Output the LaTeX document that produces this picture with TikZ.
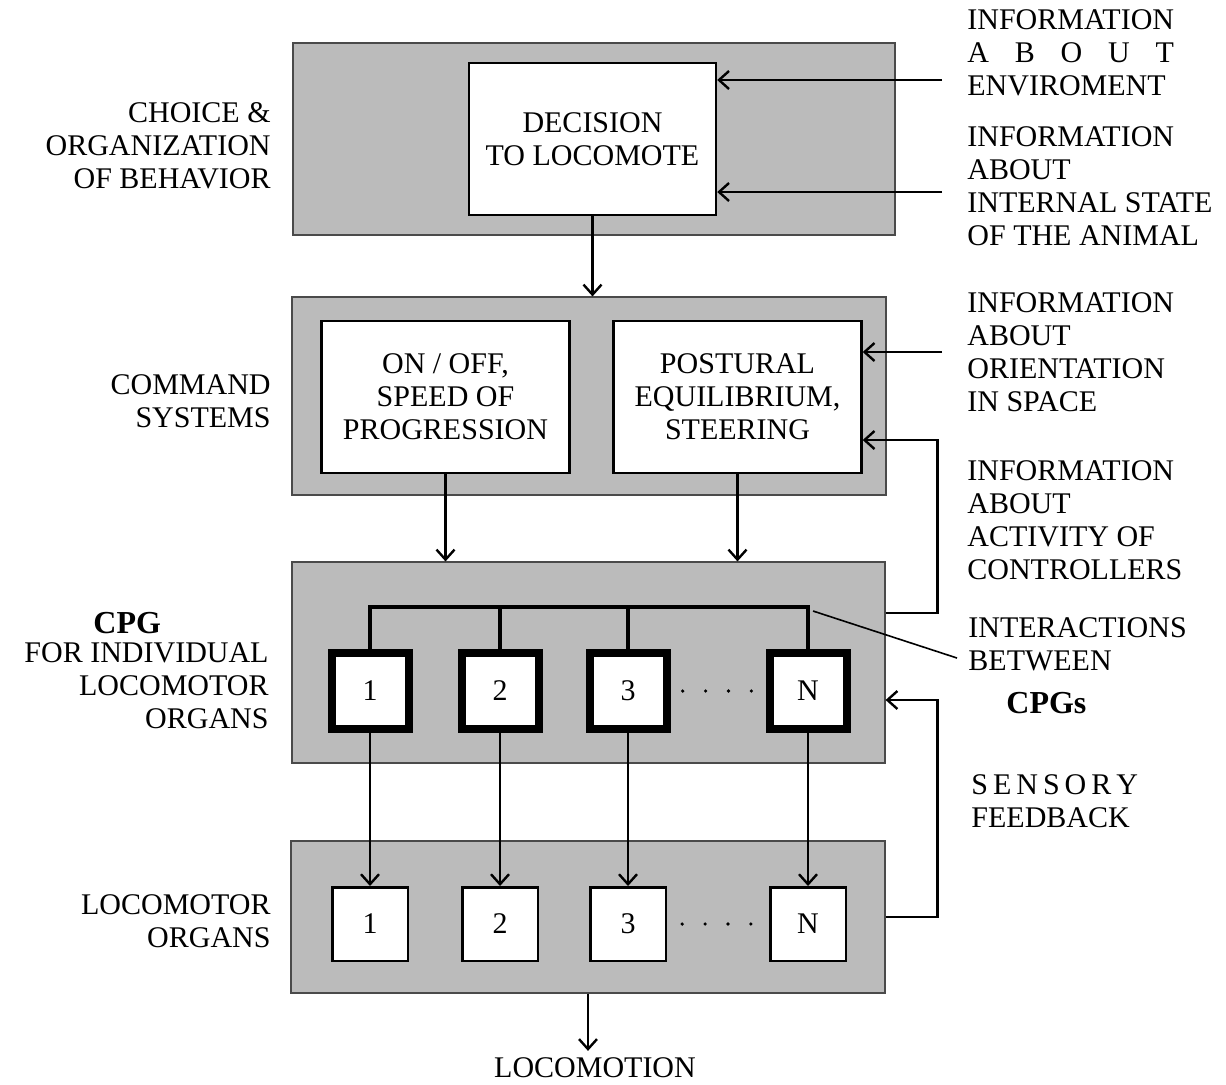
\documentclass[tikz,border=0pt]{standalone}
\usepackage{fontspec}
\setmainfont{Liberation Serif}
\usepackage{calc}
\usepackage{tikz}
\usetikzlibrary{arrows.meta,positioning}
\definecolor{panelgray}{HTML}{BBBBBB}
\definecolor{edgegray}{HTML}{4A4A4A}
\newcommand{\spreadto}[2]{\makebox[\widthof{#1}][s]{#2}}

\begin{document}
\begin{tikzpicture}[x=0.5pt,y=-0.5pt, every node/.style={font=\fontsize{15}{16.5}\selectfont}, >={Straight Barb[length=5pt,width=9pt]}]
\tikzstyle{panel}=[draw=edgegray,line width=0.6pt,fill=panelgray,inner sep=0pt]
\tikzstyle{whitebox}=[draw,line width=1.2pt,fill=white,align=center,inner sep=0pt,minimum width=124pt,minimum height=76pt]
\tikzstyle{cpgbox}=[draw,line width=4pt,fill=white,inner sep=0pt,minimum width=38.5pt,minimum height=38pt]
\tikzstyle{organbox}=[draw,line width=1.25pt,fill=white,inner sep=0pt,minimum width=37.75pt,minimum height=36.75pt]
\tikzstyle{lbl}=[align=right,anchor=east,inner sep=0pt]
\tikzstyle{info}=[align=left,anchor=west,inner sep=0pt]
\tikzstyle{boldlbl}=[anchor=west,inner sep=0pt,font=\fontsize{16}{18}\selectfont\bfseries]
\tikzstyle{arr}=[->,line width=1.2pt]
\tikzstyle{bus}=[line width=1.6pt]
\tikzstyle{pointer}=[line width=0.8pt]
\tikzstyle{dots}=[line width=1.8pt,line cap=round,dash pattern=on 0pt off 11.45pt]
\useasboundingbox (0,0) rectangle (1226,1084);
% gray levels
\node[panel,minimum width=301pt,minimum height=96pt] (choice) at (594,139) {};
\node[panel,minimum width=297pt,minimum height=99pt] (command) at (589,396) {};
\node[panel,minimum width=296.5pt,minimum height=100.5pt] (cpgs) at (588.5,662.5) {};
\node[panel,minimum width=297pt,minimum height=76pt] (organs) at (588,917) {};
% boxes
\node[whitebox,minimum width=123.5pt] (decision) at (592.5,139) {DECISION\\TO LOCOMOTE};
\node[whitebox] (onoff) at (445.5,397) {ON / OFF,\\SPEED OF\\PROGRESSION};
\node[whitebox] (postural) at (737.5,397) {POSTURAL\\EQUILIBRIUM,\\STEERING};
\node[cpgbox] (cpg1) at (370,691) {1};
\node[cpgbox] (cpg2) at (500,691) {2};
\node[cpgbox] (cpg3) at (628,691) {3};
\node[cpgbox] (cpgN) at (808,691) {N};
\node[organbox,below=76.5pt of cpg1] (org1) {1};
\node[organbox,below=76.5pt of cpg2] (org2) {2};
\node[organbox,below=76.5pt of cpg3] (org3) {3};
\node[organbox,below=76.5pt of cpgN] (orgN) {N};
% labels left
\node[lbl] (choicelbl) at (271,145.5) {CHOICE \&\\ORGANIZATION\\OF BEHAVIOR};
\node[lbl] (cmdlbl) at (271,401.5) {COMMAND\\SYSTEMS};
\node[boldlbl] (cpgword) at (93,623) {CPG};
\node[lbl] (cpglbl) at (269,686) {FOR INDIVIDUAL\\LOCOMOTOR\\ORGANS};
\node[lbl] (orglbl) at (271,921.5) {LOCOMOTOR\\ORGANS};
% labels right
\node[info] (envtxt) at (967,52.5) {INFORMATION\\\spreadto{INFORMATION}{A B O U T}\\ENVIROMENT};
\node[info] (statetxt) at (967,186.5) {INFORMATION\\ABOUT\\INTERNAL STATE\\OF THE ANIMAL};
\node[info] (orienttxt) at (967,352) {INFORMATION\\ABOUT\\ORIENTATION\\IN SPACE};
\node[info] (acttxt) at (967,520.5) {INFORMATION\\ABOUT\\ACTIVITY OF\\CONTROLLERS};
\node[info] (intertxt) at (968,644) {INTERACTIONS\\BETWEEN};
\node[boldlbl] (cpgsword) at (1006,703) {CPGs};
\node[info] (senstxt) at (971,801) {\spreadto{FEEDBACK}{S E N S O R Y}\\FEEDBACK};
\node (loco) at (595,1068) {LOCOMOTION};
% inputs
\coordinate (envin) at (942,80);
\coordinate (statein) at (942,192);
\coordinate (orientin) at (942,352);
\coordinate (actout) at (0,613);
\coordinate (actin) at (0,440);
\coordinate (sensin) at (0,700);
\coordinate (busy) at (0,607);
\coordinate (ptr) at (957,658);
\draw[arr] (envin) -- (decision.east |- envin);
\draw[arr] (statein) -- (decision.east |- statein);
\draw[arr] (orientin) -- (postural.east |- orientin);
\draw[arr] (cpgs.east |- actout) -- ++(26pt,0) |- (postural.east |- actin);
\draw[arr] (organs.east) -- ++(26pt,0) |- (cpgs.east |- sensin);
% downward flow
\draw[arr] (decision.south) -- (decision.south |- command.north);
\draw[arr] (onoff.south) -- (onoff.south |- cpgs.north);
\draw[arr] (postural.south) -- (postural.south |- cpgs.north);
\draw[arr] (cpg1.south) -- (org1.north);
\draw[arr] (cpg2.south) -- (org2.north);
\draw[arr] (cpg3.south) -- (org3.north);
\draw[arr] (cpgN.south) -- (orgN.north);
\draw[arr] (organs.south) -- (organs.south |- loco.north);
% interactions
\coordinate (busend) at (cpgN.north |- busy);
\draw[bus] (cpg1.north) |- (busend) -- (cpgN.north);
\draw[bus] (cpg2.north) -- (cpg2.north |- busy);
\draw[bus] (cpg3.north) -- (cpg3.north |- busy);
\draw[pointer] ([xshift=2.5pt,yshift=-2pt]busend) -- (ptr);
\draw[dots,shorten <=6.1pt,shorten >=6.1pt] (cpg3) -- (cpgN);
\draw[dots,shorten <=7.6pt,shorten >=7.6pt] (org3) -- (orgN);
\end{tikzpicture}
\end{document}
